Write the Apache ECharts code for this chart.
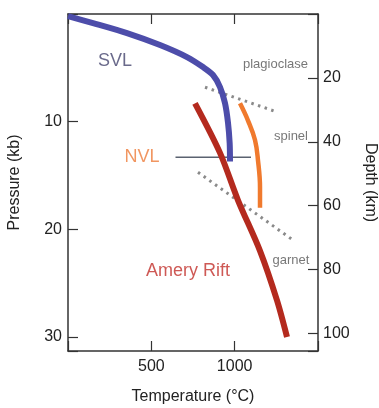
<!DOCTYPE html>
<html>
<head>
<meta charset="utf-8">
<script src="https://cdn.jsdelivr.net/npm/echarts@6/dist/echarts.min.js"></script>
<style>
  html, body { margin: 0; padding: 0; background: #fff; }
  #chart { width: 379px; height: 408px; }
</style>
</head>
<body>
<div id="chart"></div>
<script>
// temperature (°C) / pressure (kb) pairs
const svl = [[0, 0.2], [150, 0.84], [354, 1.77], [552, 2.88], [714, 4.0], [810, 4.93], [870, 5.67], [912, 6.79], [942, 8.28], [960, 10.1], [970, 12.0], [972, 13.7]];
const nvl = [[1032, 8.3], [1080, 9.9], [1122, 11.7], [1140, 13.6], [1152, 16.1], [1152, 18.0]];
const ameryRift = [[762, 8.3], [912, 12.9], [1020, 17.3], [1152, 22.0], [1254, 26.6], [1314, 30.0]];
const nvlLeader = [[645, 13.3], [1098, 13.3]];
const plagSpinel = [[822, 6.8], [1254, 9.1]];
const spinelGarnet = [[780, 14.7], [1350, 21.0]];

const tempTicks = [500, 1000];
const pressureTicks = [10, 20, 30];
const depthTicks = [20, 40, 60, 80, 100];

// curve labels: [temperature, pressure, text]
const curveLabels = [[282, 4.4, 'SVL'], [444, 13.3, 'NVL'], [720, 23.9, 'Amery Rift']];
const phaseLabels = [[1245, 4.65, 'plagioclase'], [1338, 11.35, 'spinel'], [1338, 22.9, 'garnet']];

const chart = echarts.init(document.getElementById('chart'));
const font = '"Liberation Sans", Arial, sans-serif';
const axisColor = '#333';

function tickFmt(list) {
  return v => (list.indexOf(Math.round(v * 1000) / 1000) >= 0 ? String(v) : '');
}

const baseAxis = {
  axisLine: { show: true, onZero: false, lineStyle: { color: axisColor, width: 1.5 } },
  axisTick: { show: true, inside: true, length: 10, lineStyle: { color: axisColor, width: 1.2 } },
  splitLine: { show: false },
  nameTextStyle: { fontFamily: font, fontSize: 16, color: '#222' },
  axisLabel: { fontFamily: font, fontSize: 16, color: '#222' }
};

const option = {
  animation: false,
  backgroundColor: '#fff',
  grid: { left: 68, right: 61, top: 14, bottom: 57, containLabel: false, outerBoundsMode: 'none' },
  xAxis: [
    Object.assign({}, baseAxis, {
      type: 'value', position: 'bottom', min: 0, max: 1500, interval: 500,
      name: 'Temperature (°C)', nameLocation: 'middle', nameGap: 38,
      axisLabel: Object.assign({}, baseAxis.axisLabel, { margin: 8, formatter: tickFmt(tempTicks) })
    }),
    Object.assign({}, baseAxis, {
      type: 'value', position: 'top', min: 0, max: 1500, interval: 500,
      axisLabel: { show: false }
    })
  ],
  yAxis: [
    Object.assign({}, baseAxis, {
      type: 'value', position: 'left', inverse: true, min: 0, max: 31.3, interval: 10,
      name: 'Pressure (kb)', nameLocation: 'middle', nameGap: 45,
      axisLabel: Object.assign({}, baseAxis.axisLabel, { margin: 6, formatter: tickFmt(pressureTicks) })
    }),
    Object.assign({}, baseAxis, {
      type: 'value', position: 'right', inverse: true, min: 0, max: 105.5, interval: 20,
      name: 'Depth (km)', nameLocation: 'middle', nameGap: 44, nameRotate: -90,
      axisLabel: Object.assign({}, baseAxis.axisLabel, { margin: 5, formatter: tickFmt(depthTicks) })
    })
  ],
  series: [
    {
      type: 'line', data: plagSpinel, showSymbol: false, silent: true,
      lineStyle: { color: '#8a8a8a', width: 3, type: [2.5, 4.5] }
    },
    {
      type: 'line', data: spinelGarnet, showSymbol: false, silent: true,
      lineStyle: { color: '#8a8a8a', width: 3, type: [2.5, 4.5] }
    },
    {
      type: 'line', data: nvlLeader, showSymbol: false, silent: true,
      lineStyle: { color: '#5a6270', width: 1.5 }
    },
    {
      name: 'SVL', type: 'line', data: svl, smooth: 0.3, showSymbol: false,
      lineStyle: { color: '#4d4daa', width: 6, cap: 'butt' }
    },
    {
      name: 'NVL', type: 'line', data: nvl, smooth: 0.4, showSymbol: false,
      lineStyle: { color: '#f07a2e', width: 4.5, cap: 'butt' }
    },
    {
      name: 'Amery Rift', type: 'line', data: ameryRift, smooth: 0.3, showSymbol: false,
      lineStyle: { color: '#b42a1e', width: 6, cap: 'butt' }
    },
    {
      type: 'scatter', symbolSize: 0, silent: true,
      data: curveLabels.map((d, i) => ({
        value: [d[0], d[1]],
        label: {
          show: true, position: 'inside', formatter: d[2],
          fontFamily: font, fontSize: 18,
          color: ['#45456e', '#ee7c3a', '#c2302b'][i]
        }
      }))
    },
    {
      type: 'scatter', symbolSize: 0, silent: true,
      data: phaseLabels.map(d => ({
        value: [d[0], d[1]],
        label: {
          show: true, position: 'inside', formatter: d[2],
          fontFamily: font, fontSize: 13, color: '#555'
        }
      }))
    }
  ]
};

chart.setOption(option);
</script>
</body>
</html>
